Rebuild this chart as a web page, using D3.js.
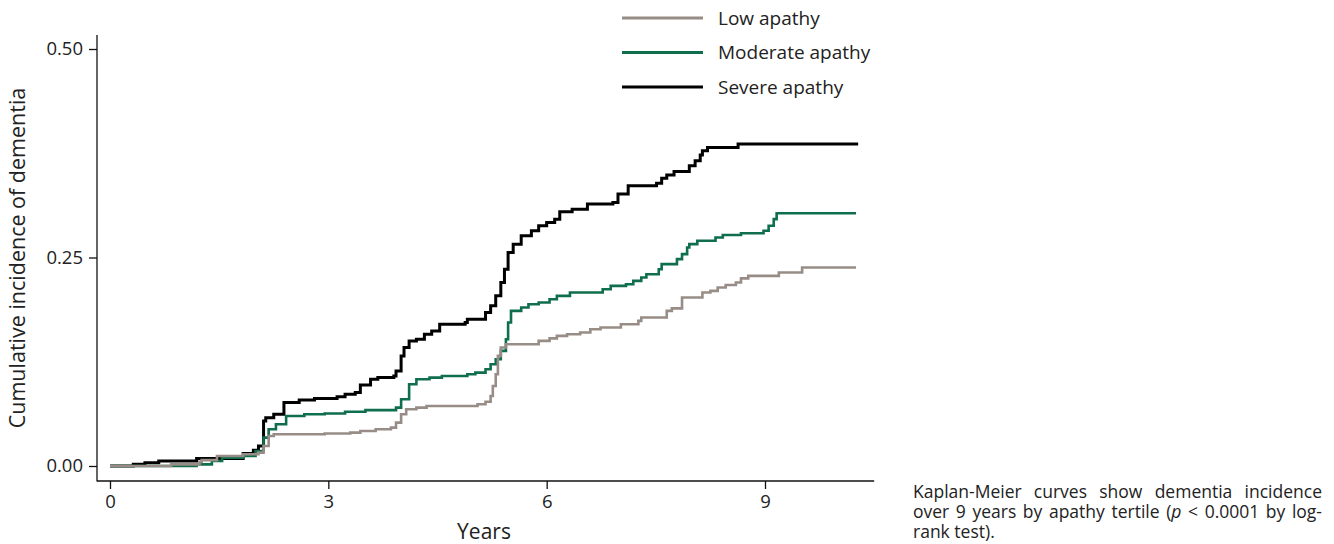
<!DOCTYPE html>
<html>
<head>
<meta charset="utf-8">
<script src="https://cdn.jsdelivr.net/npm/d3@7"></script>
<style>
  body { margin: 0; background: #fff; }
  svg { display: block; font-family: "Open Sans", "Noto Sans", sans-serif; }
</style>
</head>
<body>
<div id="chart"></div>
<script>
// Kaplan-Meier step points (time in years, cumulative incidence)
var severeTime = [0, 0.32, 0.48, 0.67, 1.19, 1.83, 1.97, 2.04, 2.11, 2.14, 2.25, 2.39, 2.60, 2.81, 3.12, 3.23,
  3.37, 3.44, 3.58, 3.68, 3.90, 3.93, 4.00, 4.04, 4.11, 4.21, 4.32, 4.42, 4.53, 4.88, 4.91, 5.16, 5.23, 5.30,
  5.37, 5.42, 5.47, 5.54, 5.65, 5.79, 5.89, 6.00, 6.11, 6.18, 6.35, 6.56, 6.91, 6.98, 7.12, 7.51, 7.58, 7.65,
  7.75, 7.96, 8.04, 8.11, 8.14, 8.21, 8.63, 10.28];
var severeCI = [0, 0.002, 0.004, 0.006, 0.009, 0.015, 0.019, 0.024, 0.054, 0.058, 0.062, 0.076, 0.079, 0.081, 0.083, 0.086,
  0.088, 0.097, 0.104, 0.106, 0.108, 0.114, 0.132, 0.142, 0.150, 0.152, 0.158, 0.162, 0.170, 0.172, 0.176, 0.184, 0.192, 0.204,
  0.220, 0.236, 0.256, 0.266, 0.276, 0.282, 0.288, 0.292, 0.296, 0.305, 0.308, 0.314, 0.316, 0.326, 0.336, 0.339, 0.345, 0.349,
  0.353, 0.360, 0.366, 0.373, 0.378, 0.382, 0.386, 0.386];

var moderateTime = [0, 1.19, 1.40, 1.54, 1.83, 2.00, 2.11, 2.18, 2.28, 2.42, 2.67, 2.95, 3.23, 3.51, 3.93, 4.00,
  4.11, 4.21, 4.39, 4.56, 4.91, 5.02, 5.16, 5.23, 5.30, 5.37, 5.44, 5.47, 5.51, 5.65, 5.75, 5.89, 6.04, 6.14,
  6.32, 6.77, 6.88, 7.09, 7.19, 7.30, 7.37, 7.54, 7.58, 7.79, 7.86, 7.93, 7.96, 8.07, 8.32, 8.42, 8.67, 8.98,
  9.05, 9.12, 9.16, 10.25];
var moderateCI = [0, 0.002, 0.006, 0.010, 0.012, 0.018, 0.034, 0.044, 0.050, 0.060, 0.062, 0.063, 0.065, 0.067, 0.070, 0.080,
  0.098, 0.104, 0.106, 0.108, 0.110, 0.112, 0.116, 0.122, 0.128, 0.138, 0.152, 0.172, 0.186, 0.190, 0.194, 0.196, 0.200, 0.204,
  0.208, 0.212, 0.216, 0.218, 0.222, 0.226, 0.230, 0.236, 0.242, 0.248, 0.254, 0.262, 0.266, 0.270, 0.274, 0.277, 0.279, 0.282,
  0.288, 0.296, 0.303, 0.303];

var lowTime = [0, 0.84, 1.23, 1.26, 1.47, 1.83, 2.04, 2.11, 2.18, 2.25, 2.95, 3.30, 3.44, 3.65, 3.86, 3.93,
  4.00, 4.07, 4.21, 4.35, 5.05, 5.16, 5.23, 5.26, 5.30, 5.33, 5.37, 5.44, 5.89, 6.04, 6.14, 6.28, 6.46, 6.60,
  6.74, 7.02, 7.26, 7.30, 7.65, 7.72, 7.86, 8.14, 8.25, 8.35, 8.46, 8.60, 8.67, 8.77, 9.19, 9.51, 10.25];
var lowCI = [0, 0.002, 0.005, 0.007, 0.012, 0.014, 0.016, 0.024, 0.036, 0.038, 0.039, 0.040, 0.042, 0.044, 0.046, 0.052,
  0.062, 0.068, 0.070, 0.072, 0.074, 0.077, 0.084, 0.096, 0.110, 0.132, 0.142, 0.146, 0.150, 0.153, 0.156, 0.158, 0.160, 0.164,
  0.166, 0.170, 0.174, 0.178, 0.186, 0.189, 0.202, 0.208, 0.210, 0.214, 0.217, 0.220, 0.225, 0.228, 0.232, 0.238, 0.238];

var seriesNames = ["Low apathy", "Moderate apathy", "Severe apathy"];
var seriesColors = ["#988d86", "#0f6e4c", "#000000"];
var xTicks = [0, 3, 6, 9];
var yTicks = [0, 0.25, 0.5];

var width = 1334, height = 544;

var svg = d3.select("#chart").append("svg")
  .attr("width", width)
  .attr("height", height);

var x = d3.scaleLinear().domain([0, 9]).range([110, 765]);
var y = d3.scaleLinear().domain([0, 0.5]).range([466, 49]);

// axis lines (open L shape, offset from the data area)
var axisLeftX = 97, axisBottomY = 481;
svg.append("line")
  .attr("x1", axisLeftX).attr("x2", axisLeftX)
  .attr("y1", 35).attr("y2", axisBottomY + 0.5)
  .attr("stroke", "#111").attr("stroke-width", 1.3);
svg.append("line")
  .attr("x1", axisLeftX).attr("x2", x(10.5))
  .attr("y1", axisBottomY).attr("y2", axisBottomY)
  .attr("stroke", "#111").attr("stroke-width", 1.3);

var yAxis = svg.append("g")
  .attr("transform", "translate(" + axisLeftX + ",0)")
  .call(d3.axisLeft(y).tickValues(yTicks).tickFormat(d3.format(".2f")).tickSize(8).tickPadding(6).tickSizeOuter(0));
var xAxis = svg.append("g")
  .attr("transform", "translate(0," + axisBottomY + ")")
  .call(d3.axisBottom(x).tickValues(xTicks).tickFormat(d3.format("d")).tickSize(8).tickPadding(6).tickSizeOuter(0));

[yAxis, xAxis].forEach(function(g) {
  g.select(".domain").remove();
  g.selectAll(".tick line").attr("stroke", "#111").attr("stroke-width", 1.3);
  g.selectAll(".tick text")
    .attr("fill", "#222")
    .style("font-family", "'Open Sans', sans-serif")
    .style("font-size", "18.5px");
});

// axis titles
svg.append("text")
  .attr("x", 484).attr("y", 539)
  .attr("text-anchor", "middle")
  .attr("fill", "#222")
  .style("font-size", "21px")
  .text("Years");

svg.append("text")
  .attr("transform", "translate(25,258) rotate(-90)")
  .attr("text-anchor", "middle")
  .attr("fill", "#222")
  .style("font-size", "21.5px")
  .text("Cumulative incidence of dementia");

// curves
var line = d3.line()
  .x(d => x(d[0]))
  .y(d => y(d[1]))
  .curve(d3.curveStepAfter);

var curves = [
  { t: severeTime, v: severeCI, color: seriesColors[2], w: 3 },
  { t: moderateTime, v: moderateCI, color: seriesColors[1], w: 2.6 },
  { t: lowTime, v: lowCI, color: seriesColors[0], w: 2.6 }
];

svg.append("g").selectAll("path")
  .data(curves)
  .enter()
  .append("path")
  .attr("d", d => line(d3.zip(d.t, d.v)))
  .attr("fill", "none")
  .attr("stroke", d => d.color)
  .attr("stroke-width", d => d.w)
  .attr("stroke-linejoin", "miter");

// legend
var legend = svg.append("g").attr("transform", "translate(622,18)");
var items = legend.selectAll("g")
  .data(seriesNames)
  .enter()
  .append("g")
  .attr("transform", (d, i) => "translate(0," + (i * 34.5) + ")");
items.append("line")
  .attr("x1", 0).attr("x2", 81)
  .attr("stroke", (d, i) => seriesColors[i])
  .attr("stroke-width", 3);
items.append("text")
  .attr("x", 96).attr("dy", "0.35em")
  .attr("fill", "#222")
  .style("font-size", "19px")
  .text(d => d);

// caption, justified to a fixed width
var captionLines = [
  ["Kaplan-Meier curves show dementia incidence"],
  ["over 9 years by apathy tertile (", "p", " < 0.0001 by log-"],
  ["rank test)."]
];
var capX = 913, capW = 409;
var cap = svg.append("g").attr("fill", "#222").style("font-size", "17.5px");
captionLines.forEach(function(parts, i) {
  var t = cap.append("text").attr("x", capX).attr("y", 498 + i * 20);
  parts.forEach(function(p, j) {
    t.append("tspan").style("font-style", (i === 1 && j === 1) ? "italic" : null).text(p);
  });
  if (i < captionLines.length - 1) {
    var full = parts.join("");
    var spaces = full.split(" ").length - 1;
    var len = t.node().getComputedTextLength();
    t.style("word-spacing", ((capW - len) / spaces) + "px");
  }
});
</script>
</body>
</html>
